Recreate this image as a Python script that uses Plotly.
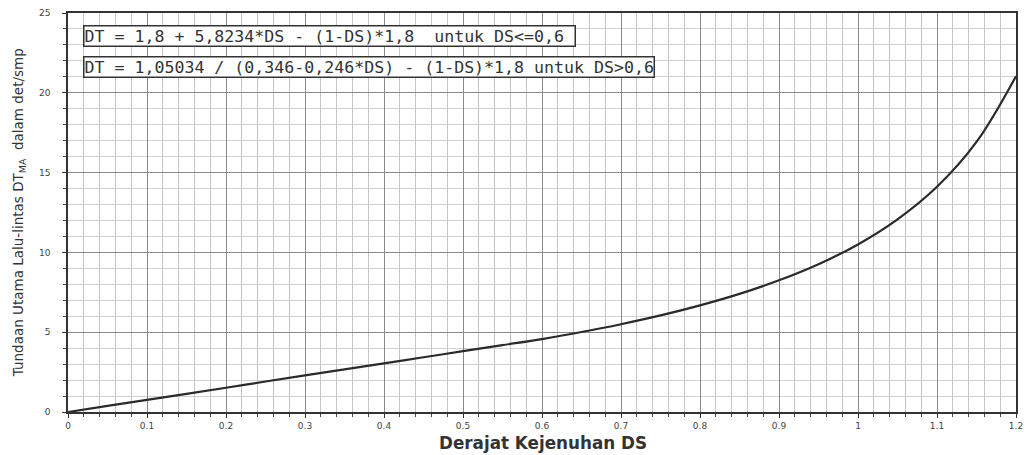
import plotly.graph_objects as go

# Values
ds = [0.0, 0.05, 0.1, 0.15, 0.2, 0.25, 0.3, 0.35, 0.4, 0.45, 0.5, 0.55, 0.6,
      0.65, 0.7, 0.75, 0.8, 0.85, 0.9, 0.95, 1.0, 1.05, 1.1, 1.15, 1.2]
dt = [0.0, 0.38, 0.76, 1.14, 1.52, 1.91, 2.29, 2.67, 3.05, 3.43, 3.81, 4.19, 4.57,
      5.01, 5.50, 6.05, 6.68, 7.40, 8.25, 9.26, 10.50, 12.07, 14.11, 16.92, 21.04]

x_ticks = [0, 0.1, 0.2, 0.3, 0.4, 0.5, 0.6, 0.7, 0.8, 0.9, 1, 1.1, 1.2]
x_labels = ["0", "0.1", "0.2", "0.3", "0.4", "0.5", "0.6", "0.7", "0.8", "0.9", "1", "1.1", "1.2"]
y_ticks = [0, 5, 10, 15, 20, 25]

eq1 = "DT = 1,8 + 5,8234*DS - (1-DS)*1,8  untuk DS<=0,6 "
eq2 = "DT = 1,05034 / (0,346-0,246*DS) - (1-DS)*1,8 untuk DS>0,6"
x_title = "<b>Derajat Kejenuhan DS</b>"
y_title = "Tundaan Utama Lalu-lintas DT<sub>MA</sub>  dalam det/smp"

fig = go.Figure()
fig.add_trace(go.Scatter(x=ds, y=dt, mode="lines", line=dict(color="#2a2a2a", width=2.2, shape="spline"),
                         showlegend=False, hoverinfo="skip"))

fig.update_layout(
    width=1023, height=447,
    margin=dict(l=60, r=15, t=5, b=43),
    paper_bgcolor="white", plot_bgcolor="white",
    font=dict(family="DejaVu Sans, Arial, sans-serif", color="#333"),
)
fig.update_xaxes(
    range=[0, 1.2], tickvals=x_ticks, ticktext=x_labels, automargin=False,
    showgrid=True, gridcolor="#8a8a8a", gridwidth=1,
    minor=dict(dtick=0.02, showgrid=True, gridcolor="#c4c4c4", ticks="outside", ticklen=3, tickcolor="#444"),
    ticks="outside", ticklen=4, tickcolor="#333",
    showline=True, linecolor="#333", linewidth=1.5, mirror=True,
    zeroline=False, ticklabelstandoff=0, ticklabeloverflow="allow",
    tickfont=dict(size=9, color="#444"),
)
fig.update_yaxes(
    range=[0, 25], tickvals=y_ticks, automargin=False,
    showgrid=True, gridcolor="#8a8a8a", gridwidth=1,
    minor=dict(dtick=1, showgrid=True, gridcolor="#d0d0d0", ticks="outside", ticklen=3, tickcolor="#444"),
    ticks="outside", ticklen=4, tickcolor="#333",
    showline=True, linecolor="#333", linewidth=1.5, mirror=True,
    zeroline=False, ticklabelstandoff=10, ticklabeloverflow="allow",
    tickfont=dict(size=9, color="#444"),
)

for txt, yv in [(eq1, 23.55), (eq2, 21.62)]:
    fig.add_annotation(x=0.019, y=yv, xref="x", yref="y", text=txt, showarrow=False,
                       xanchor="left", yanchor="middle", align="left",
                       font=dict(family="DejaVu Sans Mono, monospace", size=16.6, color="#333"),
                       bordercolor="#333", borderwidth=1.5, borderpad=0, bgcolor="white")

# axis titles
fig.add_annotation(x=0.501, y=-0.078, xref="paper", yref="paper", text=x_title, showarrow=False,
                   xanchor="center", yanchor="middle", font=dict(size=16.8, color="#333"))
fig.add_annotation(x=-0.052, y=0.50, xref="paper", yref="paper", text=y_title, showarrow=False,
                   textangle=-90, xanchor="center", yanchor="middle", font=dict(size=13.5, color="#333"))

fig.write_html("out.html")
